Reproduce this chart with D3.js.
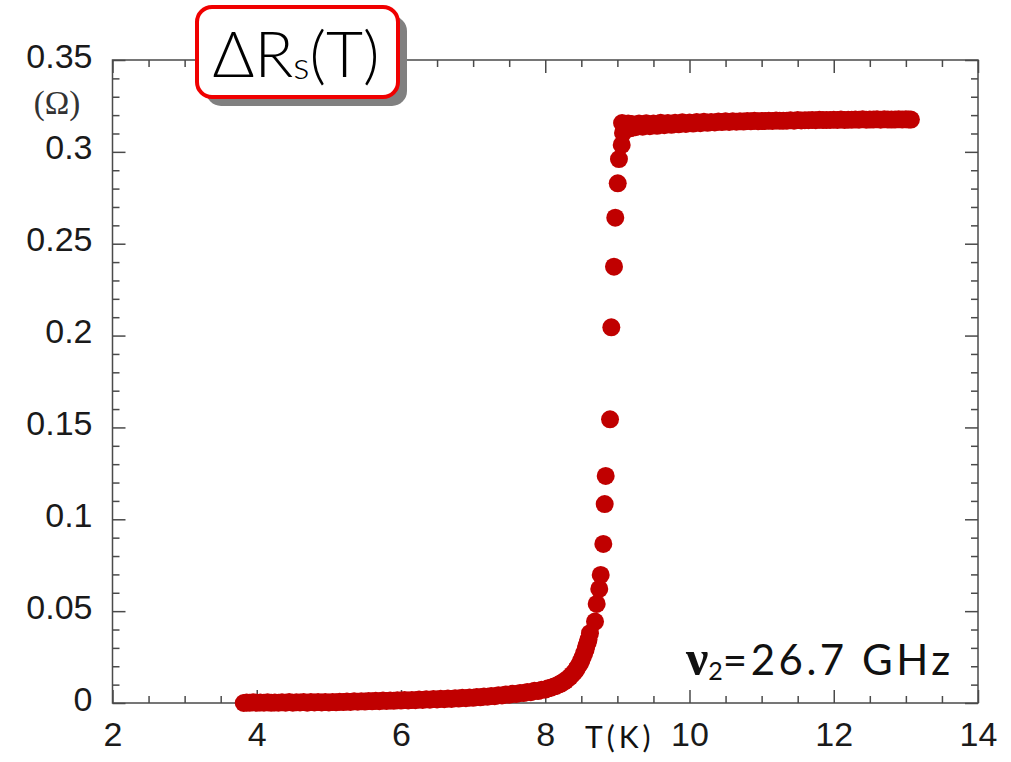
<!DOCTYPE html>
<html>
<head>
<meta charset="utf-8">
<script src="https://cdn.jsdelivr.net/npm/d3@7"></script>
<style>
	body { margin: 0; background: #fff; }
	svg { display: block; }
</style>
</head>
<body>
<div id="chart"></div>
<script>
// values: T in K, delta Rs in Ohm
// superconducting state, below the transition
var lowT = [3.82, 3.86, 3.90, 3.95, 4.00, 4.05, 4.10, 4.15, 4.20, 4.25,
	4.30, 4.35, 4.40, 4.45, 4.50, 4.55, 4.60, 4.65, 4.70, 4.75,
	4.80, 4.85, 4.90, 4.95, 5.00, 5.05, 5.10, 5.15, 5.20, 5.25,
	5.30, 5.35, 5.40, 5.45, 5.50, 5.55, 5.60, 5.65, 5.70, 5.75,
	5.80, 5.85, 5.90, 5.95, 6.00, 6.05, 6.10, 6.15, 6.20, 6.25,
	6.30, 6.35, 6.40, 6.45, 6.50, 6.55, 6.60, 6.65, 6.70, 6.75,
	6.80, 6.85, 6.90, 6.95, 7.00, 7.05, 7.10, 7.15, 7.20, 7.25,
	7.30, 7.35, 7.40, 7.45, 7.50, 7.55, 7.60, 7.65, 7.70, 7.75,
	7.80, 7.85, 7.90, 7.95, 8.00, 8.04, 8.08, 8.12, 8.15, 8.19,
	8.22, 8.25, 8.28, 8.31, 8.34, 8.37, 8.40, 8.43, 8.45, 8.48,
	8.50, 8.52, 8.54, 8.56, 8.57, 8.59, 8.60, 8.62
];
var lowR = [0.0000, 0.0003, 0.0001, 0.0004, 0.0001, 0.0003, 0.0002, 0.0004, 0.0001, 0.0003,
	0.0002, 0.0004, 0.0002, 0.0005, 0.0002, 0.0004, 0.0003, 0.0005, 0.0002, 0.0005,
	0.0003, 0.0006, 0.0003, 0.0005, 0.0003, 0.0006, 0.0004, 0.0007, 0.0005, 0.0008,
	0.0006, 0.0009, 0.0007, 0.0010, 0.0008, 0.0011, 0.0009, 0.0012, 0.0010, 0.0013,
	0.0011, 0.0014, 0.0012, 0.0015, 0.0013, 0.0016, 0.0014, 0.0017, 0.0015, 0.0019,
	0.0017, 0.0020, 0.0018, 0.0022, 0.0019, 0.0023, 0.0021, 0.0025, 0.0022, 0.0026,
	0.0024, 0.0028, 0.0026, 0.0030, 0.0028, 0.0033, 0.0031, 0.0035, 0.0034, 0.0038,
	0.0037, 0.0042, 0.0041, 0.0046, 0.0045, 0.0050, 0.0049, 0.0055, 0.0054, 0.0060,
	0.0059, 0.0066, 0.0065, 0.0072, 0.0073, 0.0080, 0.0083, 0.0090, 0.0093, 0.0102,
	0.0106, 0.0115, 0.0121, 0.0132, 0.0141, 0.0154, 0.0166, 0.0182, 0.0196, 0.0214,
	0.0232, 0.0250, 0.0271, 0.0292, 0.0311, 0.0330, 0.0346, 0.0380
];
// transition
var riseT = [8.69, 8.713, 8.749, 8.769, 8.805, 8.824, 8.838, 8.898, 8.916, 8.953,
	8.971, 9.005, 9.022, 9.06, 9.078, 9.065];
var riseR = [0.0443, 0.0539, 0.0621, 0.0697, 0.0866, 0.1083, 0.1236, 0.1544, 0.2045, 0.2375,
	0.2642, 0.2829, 0.2961, 0.3038, 0.3103, 0.3157];
// normal state
var plateauT = [9.10, 9.13, 9.15, 9.18, 9.20, 9.25, 9.30, 9.35, 9.40, 9.45,
	9.50, 9.55, 9.60, 9.65, 9.70, 9.75, 9.80, 9.85, 9.90, 9.95,
	10.00, 10.05, 10.10, 10.15, 10.20, 10.25, 10.30, 10.35, 10.40, 10.45,
	10.50, 10.55, 10.60, 10.65, 10.70, 10.75, 10.80, 10.85, 10.90, 10.95,
	11.00, 11.05, 11.10, 11.15, 11.20, 11.25, 11.30, 11.35, 11.40, 11.45,
	11.50, 11.55, 11.60, 11.65, 11.70, 11.75, 11.80, 11.85, 11.90, 11.95,
	12.00, 12.05, 12.10, 12.15, 12.20, 12.25, 12.30, 12.35, 12.40, 12.45,
	12.50, 12.55, 12.60, 12.65, 12.70, 12.75, 12.80, 12.85, 12.90, 12.95,
	13.00, 13.04, 13.07
];
var plateauR = [0.3148, 0.3132, 0.3155, 0.3128, 0.3152, 0.3134, 0.3154, 0.3137, 0.3156, 0.3140,
	0.3155, 0.3142, 0.3158, 0.3145, 0.3157, 0.3147, 0.3159, 0.3150, 0.3161, 0.3152,
	0.3160, 0.3154, 0.3162, 0.3156, 0.3164, 0.3158, 0.3163, 0.3160, 0.3165, 0.3162,
	0.3166, 0.3163, 0.3167, 0.3164, 0.3166, 0.3165, 0.3168, 0.3166, 0.3169, 0.3167,
	0.3168, 0.3168, 0.3170, 0.3168, 0.3171, 0.3169, 0.3170, 0.3170, 0.3172, 0.3170,
	0.3173, 0.3171, 0.3172, 0.3172, 0.3174, 0.3172, 0.3175, 0.3173, 0.3174, 0.3174,
	0.3175, 0.3174, 0.3176, 0.3174, 0.3175, 0.3175, 0.3176, 0.3175, 0.3177, 0.3175,
	0.3176, 0.3176, 0.3177, 0.3175, 0.3177, 0.3176, 0.3176, 0.3176, 0.3177, 0.3176,
	0.3177, 0.3176, 0.3176
];
var xTicks = [2, 4, 6, 8, 10, 12, 14];
var yTicks = [0, 0.05, 0.1, 0.15, 0.2, 0.25, 0.3, 0.35];
var yTickLabels = ["0", "0.05", "0.1", "0.15", "0.2", "0.25", "0.3", "0.35"];

var W = 1011, H = 762;
var margin = { top: 60, right: 33, bottom: 59, left: 112.5 };
var width = W - margin.left - margin.right;
var height = H - margin.top - margin.bottom;

var svg = d3.select("#chart").append("svg")
	.attr("width", W)
	.attr("height", H);

var G = svg.append("g")
	.attr("transform", "translate(" + margin.left + "," + margin.top + ")");

var xScale = d3.scaleLinear().domain([2, 14]).range([0, width]);
var yScale = d3.scaleLinear().domain([0, 0.35]).range([height, 0]);

var xMinor = d3.range(2, 14.001, 0.5).filter(function(v) { return v % 2 != 0; });
var yMinor = d3.range(0, 0.3501, 0.01).filter(function(v) {
	return Math.abs(v / 0.05 - Math.round(v / 0.05)) > 1e-6;
});

var axisColor = "#4a4a4a";
var tickFont = "'Liberation Sans', Arial, Helvetica, sans-serif";
var textFont = "Lato, 'Open Sans', sans-serif";

function styleAxis(g) {
	g.select(".domain").remove();
	g.selectAll("line").attr("stroke", axisColor).attr("stroke-width", 1.5);
}

// bottom
G.append("g")
	.attr("transform", "translate(0," + height + ")")
	.call(d3.axisBottom(xScale).tickValues(xTicks).tickSize(-13).tickSizeOuter(0))
	.call(styleAxis)
	.call(function(g) {
		g.selectAll("text")
			.attr("dy", null)
			.attr("y", 42.5)
			.style("font-family", tickFont)
			.style("font-size", "34px")
			.attr("fill", "#1a1a1a");
	});
G.append("g")
	.attr("transform", "translate(0," + height + ")")
	.call(d3.axisBottom(xScale).tickValues(xMinor).tickSize(-7).tickSizeOuter(0).tickFormat(""))
	.call(styleAxis);

// top
G.append("g")
	.call(d3.axisTop(xScale).tickValues(xTicks).tickSize(-13).tickSizeOuter(0).tickFormat(""))
	.call(styleAxis);
G.append("g")
	.call(d3.axisTop(xScale).tickValues(xMinor).tickSize(-7).tickSizeOuter(0).tickFormat(""))
	.call(styleAxis);

// left
G.append("g")
	.call(d3.axisLeft(yScale).tickValues(yTicks).tickSize(-13).tickSizeOuter(0).tickPadding(20)
		.tickFormat(function(d, i) { return yTickLabels[i]; }))
	.call(styleAxis)
	.call(function(g) {
		g.selectAll("text")
			.attr("dy", null)
			.attr("y", 7)
			.style("font-family", tickFont)
			.style("font-size", "34px")
			.attr("fill", "#1a1a1a");
	});
G.append("g")
	.call(d3.axisLeft(yScale).tickValues(yMinor).tickSize(-7).tickSizeOuter(0).tickFormat(""))
	.call(styleAxis);

// right
G.append("g")
	.attr("transform", "translate(" + width + ",0)")
	.call(d3.axisRight(yScale).tickValues(yTicks).tickSize(-13).tickSizeOuter(0).tickFormat(""))
	.call(styleAxis);
G.append("g")
	.attr("transform", "translate(" + width + ",0)")
	.call(d3.axisRight(yScale).tickValues(yMinor).tickSize(-7).tickSizeOuter(0).tickFormat(""))
	.call(styleAxis);

// frame
G.append("rect")
	.attr("width", width)
	.attr("height", height)
	.attr("fill", "none")
	.attr("stroke", axisColor)
	.attr("stroke-width", 1.5);

// unit label
svg.append("text")
	.attr("x", 57)
	.attr("y", 114)
	.style("text-anchor", "middle")
	.style("font-family", "'Liberation Serif', 'Times New Roman', serif")
	.style("font-size", "33px")
	.attr("fill", "#333")
	.text("(\u03A9)");

// data points
var tempK = lowT.concat(riseT, plateauT);
var deltaRs = lowR.concat(riseR, plateauR);
var points = tempK.map(function(t, i) { return { t: t, r: deltaRs[i] }; });
G.append("g").selectAll("circle")
	.data(points)
	.enter().append("circle")
	.attr("cx", function(d) { return xScale(d.t); })
	.attr("cy", function(d) { return yScale(d.r); })
	.attr("r", 9)
	.attr("fill", "#c00000");

// axis title
svg.append("text")
	.attr("x", 585)
	.attr("y", 748)
	.style("font-family", textFont)
	.style("font-size", "30px")
	.style("letter-spacing", "4px")
	.attr("fill", "#111")
	.text("T(K)");

// frequency note
var note = svg.append("text")
	.attr("x", 686)
	.attr("y", 675)
	.attr("fill", "#111");
note.append("tspan")
	.style("font-family", "'Liberation Serif', 'Times New Roman', serif")
	.style("font-weight", "bold")
	.style("font-size", "50px")
	.text("\u03BD");
note.append("tspan")
	.attr("dy", 5)
	.style("font-family", textFont)
	.style("font-size", "25px")
	.text("2");
note.append("tspan")
	.attr("dy", -5)
	.style("font-family", textFont)
	.style("font-size", "42px")
	.style("letter-spacing", "3.5px")
	.text("=26.7 GHz");

// title box with shadow
var box = { x: 197, y: 7, w: 201, h: 90 };
svg.append("rect")
	.attr("x", box.x + 9)
	.attr("y", box.y + 9)
	.attr("width", box.w)
	.attr("height", box.h)
	.attr("rx", 15)
	.attr("fill", "#808080");
svg.append("rect")
	.attr("x", box.x)
	.attr("y", box.y)
	.attr("width", box.w)
	.attr("height", box.h)
	.attr("rx", 15)
	.attr("fill", "#fff")
	.attr("stroke", "#f00000")
	.attr("stroke-width", 4);

var title = svg.append("text")
	.attr("x", 296)
	.attr("y", 77)
	.style("text-anchor", "middle")
	.style("font-family", textFont)
	.style("font-weight", "300")
	.style("font-size", "64px")
	.attr("fill", "#000");
title.append("tspan").text("\u0394R");
title.append("tspan").attr("dy", 2).style("font-size", "38px").text("s");
title.append("tspan").attr("dy", -2).text("(T)");
</script>
</body>
</html>
